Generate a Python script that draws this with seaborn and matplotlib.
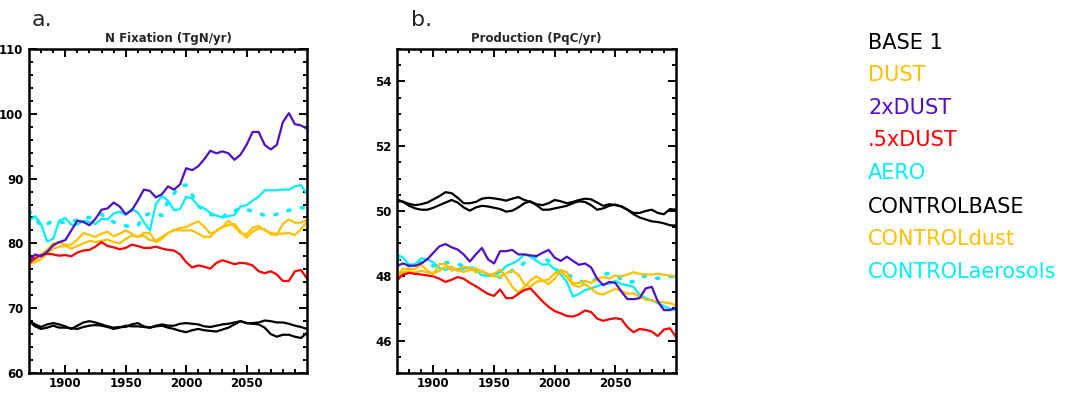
import numpy as np
import pandas as pd
import matplotlib
matplotlib.use("Agg")
import matplotlib.pyplot as plt
import seaborn as sns

years = list(range(1870, 2101, 5))

# ---- Panel a: N Fixation (TgN/yr) ----
nfix_base1 = [68.1, 67.5, 67.1, 67.5, 67.7, 67.5, 67.2, 66.8, 67.3, 67.8, 68.0, 67.8, 67.5, 67.2, 67.0, 67.1,
              67.1, 67.5, 67.7, 67.2, 67.0, 67.3, 67.5, 67.3, 67.3, 67.6, 67.7, 67.6, 67.5, 67.2, 67.1, 67.3,
              67.5, 67.6, 67.8, 68.0, 67.7, 67.7, 67.8, 68.1, 68.0, 67.8, 67.8, 67.6, 67.3, 67.1, 66.8]
nfix_dust = [77.3, 77.5, 78.3, 79.0, 80.0, 80.2, 79.8, 79.8, 80.6, 81.6, 81.3, 81.0, 81.5, 81.8, 81.1, 81.5,
             82.0, 81.5, 81.0, 81.6, 81.6, 80.2, 80.7, 81.6, 82.0, 82.4, 82.5, 83.0, 83.4, 82.6, 81.5, 81.9,
             82.5, 82.8, 83.0, 81.8, 80.9, 81.8, 82.3, 82.2, 81.4, 81.3, 83.0, 83.7, 83.2, 83.2, 83.6]
nfix_2xdust = [77.2, 78.3, 78.0, 78.7, 79.7, 80.2, 80.5, 82.0, 83.5, 83.3, 82.8, 83.8, 85.2, 85.4, 86.3, 85.7,
               84.5, 85.1, 86.6, 88.3, 88.1, 87.1, 87.6, 88.8, 88.3, 89.1, 91.6, 91.3, 91.9, 93.0, 94.3, 93.9,
               94.2, 93.9, 92.9, 93.7, 95.2, 97.2, 97.2, 95.2, 94.5, 95.2, 98.7, 100.1, 98.4, 98.2, 97.7]
nfix_halfdust = [76.95, 77.7, 78.2, 78.4, 78.3, 78.1, 78.2, 78.0, 78.6, 78.9, 79.0, 79.5, 80.2, 79.6, 79.4, 79.1,
                 79.3, 79.8, 79.6, 79.3, 79.3, 79.5, 79.2, 79.0, 78.9, 78.3, 77.1, 76.3, 76.6, 76.4, 76.1, 77.0,
                 77.4, 77.1, 76.8, 77.0, 76.9, 76.6, 75.7, 75.4, 75.7, 75.2, 74.2, 74.2, 75.7, 75.9, 74.6]
nfix_aero = [83.5, 84.2, 83.0, 80.3, 80.7, 83.5, 83.9, 82.9, 82.9, 83.5, 83.3, 83.0, 83.8, 83.7, 84.6, 84.9,
             84.4, 85.3, 84.8, 83.3, 82.0, 86.1, 87.3, 86.6, 85.1, 85.3, 87.2, 86.9, 85.8, 85.4, 84.7, 84.3,
             84.0, 84.2, 84.4, 85.7, 85.9, 86.6, 87.2, 88.2, 88.2, 88.2, 88.3, 88.3, 88.8, 89.0, 87.6]
nfix_controlbase = [68.0, 67.2, 66.8, 67.0, 67.3, 67.0, 67.0, 66.9, 66.8, 67.1, 67.3, 67.4, 67.3, 67.1, 66.8, 67.0,
                    67.3, 67.2, 67.2, 67.1, 67.0, 67.2, 67.3, 67.0, 66.8, 66.5, 66.3, 66.6, 66.8, 66.6, 66.5, 66.4,
                    66.7, 67.0, 67.5, 68.0, 67.7, 67.6, 67.5, 67.0, 66.0, 65.6, 65.9, 65.9, 65.6, 65.4, 66.2]
nfix_controldust = [76.9, 77.1, 77.6, 78.4, 79.2, 79.5, 79.6, 79.2, 79.6, 80.0, 80.4, 80.2, 80.4, 80.6, 80.2, 80.0,
                    80.7, 81.2, 81.0, 81.2, 80.5, 80.4, 81.0, 81.6, 82.1, 82.0, 82.0, 82.0, 81.5, 81.0, 81.0, 82.0,
                    82.5, 83.5, 82.6, 81.6, 81.4, 82.4, 82.7, 82.0, 81.6, 81.5, 81.5, 81.6, 81.3, 82.2, 83.3]
nfix_controlaero = [85.0, 84.0, 82.6, 83.0, 83.5, 83.3, 83.2, 83.4, 83.6, 84.0, 84.0, 84.3, 84.5, 83.8, 83.3, 83.0,
                    82.7, 82.6, 82.7, 84.3, 84.6, 84.6, 84.3, 86.5, 87.7, 88.9, 89.0, 87.5, 85.8, 85.0, 84.5, 84.2,
                    84.0, 84.8, 85.0, 85.4, 85.2, 85.0, 84.7, 84.3, 84.3, 84.5, 84.7, 85.1, 85.3, 85.5, 85.5]

# ---- Panel b: Production (PgC/yr) ----
prod_base1 = [50.31, 50.29, 50.22, 50.18, 50.21, 50.26, 50.36, 50.46, 50.58, 50.55, 50.41, 50.24, 50.24, 50.28,
              50.38, 50.41, 50.39, 50.36, 50.32, 50.38, 50.43, 50.34, 50.28, 50.21, 50.18, 50.24, 50.34, 50.30,
              50.24, 50.28, 50.34, 50.38, 50.36, 50.26, 50.16, 50.21, 50.18, 50.14, 50.04, 49.94, 49.94, 50.00,
              50.04, 49.94, 49.90, 50.06, 50.04]
prod_dust = [48.01, 48.22, 48.21, 48.21, 48.34, 48.16, 48.06, 48.36, 48.36, 48.16, 48.21, 48.28, 48.24, 48.11,
             48.16, 48.04, 48.06, 48.19, 47.96, 47.66, 47.48, 47.66, 47.86, 47.98, 47.86, 47.74, 47.91, 48.18,
             48.11, 47.76, 47.78, 47.84, 47.78, 47.91, 47.96, 47.92, 48.01, 47.98, 48.04, 48.11, 48.06, 48.04,
             48.04, 48.06, 48.03, 48.01, 47.98]
prod_2xdust = [48.31, 48.38, 48.31, 48.31, 48.38, 48.51, 48.71, 48.91, 48.98, 48.88, 48.81, 48.66, 48.44, 48.66,
               48.86, 48.51, 48.38, 48.76, 48.76, 48.80, 48.66, 48.66, 48.63, 48.61, 48.71, 48.80, 48.56, 48.46,
               48.59, 48.46, 48.34, 48.38, 48.26, 47.91, 47.71, 47.81, 47.78, 47.51, 47.28, 47.28, 47.31, 47.61,
               47.66, 47.21, 46.94, 46.94, 47.01]
prod_halfdust = [47.86, 48.04, 48.09, 48.06, 48.04, 48.01, 47.98, 47.91, 47.81, 47.88, 47.96, 47.91, 47.78, 47.68,
                 47.56, 47.44, 47.38, 47.58, 47.31, 47.31, 47.44, 47.56, 47.61, 47.41, 47.21, 47.04, 46.91, 46.84,
                 46.76, 46.74, 46.81, 46.93, 46.88, 46.68, 46.61, 46.66, 46.69, 46.66, 46.41, 46.26, 46.36, 46.33,
                 46.28, 46.14, 46.34, 46.38, 46.11]
prod_aero = [48.66, 48.56, 48.34, 48.36, 48.54, 48.51, 48.41, 48.24, 48.18, 48.26, 48.16, 48.22, 48.26, 48.18,
             48.01, 48.00, 48.01, 48.11, 48.30, 48.38, 48.48, 48.66, 48.59, 48.46, 48.34, 48.36, 48.21, 48.04,
             47.81, 47.36, 47.44, 47.56, 47.61, 47.68, 47.74, 47.76, 47.84, 47.74, 47.71, 47.66, 47.41, 47.31,
             47.24, 47.16, 47.06, 46.98, 46.94]
prod_controlbase = [50.36, 50.28, 50.16, 50.08, 50.04, 50.04, 50.10, 50.18, 50.26, 50.34, 50.26, 50.11, 50.01,
                    50.11, 50.16, 50.14, 50.10, 50.06, 49.98, 50.01, 50.11, 50.24, 50.30, 50.18, 50.04, 50.04,
                    50.08, 50.12, 50.16, 50.24, 50.30, 50.28, 50.18, 50.04, 50.08, 50.16, 50.20, 50.14, 50.04,
                    49.90, 49.80, 49.74, 49.68, 49.66, 49.62, 49.56, 49.55]
prod_controldust = [47.96, 48.12, 48.14, 48.10, 48.16, 48.10, 48.08, 48.16, 48.28, 48.28, 48.17, 48.12, 48.18,
                    48.23, 48.12, 48.05, 47.98, 47.98, 48.08, 48.16, 48.04, 47.74, 47.66, 47.82, 47.84, 47.89,
                    48.08, 48.14, 47.96, 47.72, 47.66, 47.74, 47.61, 47.46, 47.42, 47.51, 47.60, 47.54, 47.44,
                    47.46, 47.36, 47.26, 47.24, 47.21, 47.18, 47.16, 47.08]
prod_controlaero = [48.56, 48.38, 48.30, 48.44, 48.40, 48.41, 48.30, 48.36, 48.41, 48.40, 48.36, 48.30, 48.26,
                    48.20, 48.12, 48.02, 47.98, 47.96, 48.06, 48.16, 48.26, 48.40, 48.52, 48.60, 48.55, 48.46,
                    48.22, 48.10, 48.04, 47.96, 47.86, 47.78, 47.80, 47.92, 48.04, 48.08, 48.02, 47.90, 47.80,
                    47.82, 47.94, 48.00, 47.96, 47.92, 47.96, 47.98, 47.96]

labels = ["BASE1", "DUST", "2xDUST", ".5xDUST", "AERO", "CONTROLBASE", "CONTROLdust", "CONTROLaerosols"]
legend_labels = ["BASE 1", "DUST", "2xDUST", ".5xDUST", "AERO", "CONTROLBASE", "CONTROLdust", "CONTROLaerosols"]
x_major = [1900, 1950, 2000, 2050]

BLACK, GOLD, PURPLE, RED, CYAN = "#000000", "#FFC000", "#5010C8", "#FF0000", "#00F0FA"
colors = [BLACK, GOLD, PURPLE, RED, CYAN, BLACK, GOLD, CYAN]
styles = ["-", "-", "-", "-", "-", "-", "-", (0, (0.6, 3.2))]

sns.set_style("ticks")
plt.rcParams["font.family"] = ["DejaVu Sans"]

fig = plt.figure(figsize=(10.66, 3.95), dpi=100)
W, H = 1066, 395
top_px, bot_px = 49, 373
axA = fig.add_axes([29 / W, 1 - bot_px / H, 278 / W, (bot_px - top_px) / H])
axB = fig.add_axes([397 / W, 1 - bot_px / H, 279 / W, (bot_px - top_px) / H])

panels = [
    (axA, [nfix_base1, nfix_dust, nfix_2xdust, nfix_halfdust, nfix_aero, nfix_controlbase, nfix_controldust,
           nfix_controlaero], "N Fixation (TgN/yr)", (60, 110), 10, 2),
    (axB, [prod_base1, prod_dust, prod_2xdust, prod_halfdust, prod_aero, prod_controlbase, prod_controldust,
           prod_controlaero], "Production (PqC/yr)", (45, 55), 2, 0.5),
]

for ax, series, title, ylim, ymaj, ymin in panels:
    order = [7, 4, 6, 1, 3, 2, 0, 5]
    for i in order:
        df = pd.DataFrame({"year": years, "value": series[i]})
        lw = 2.6 if i == 7 else 1.6
        sns.lineplot(data=df, x="year", y="value", ax=ax, color=colors[i], linestyle=styles[i],
                     linewidth=lw, legend=False, dash_capstyle="round")
    ax.set_xlim(1870, 2100)
    ax.set_ylim(*ylim)
    ax.set_xticks(x_major)
    ax.set_xticks(np.arange(1880, 2100, 10), minor=True)
    yt = np.arange(np.ceil(ylim[0] / ymaj) * ymaj, ylim[1] + 1e-9, ymaj)
    ax.set_yticks(yt)
    ax.set_yticklabels([f"{v:g}" for v in yt])
    ax.set_yticks(np.arange(ylim[0], ylim[1] + 1e-9, ymin), minor=True)
    ax.set_xlabel("")
    ax.set_ylabel("")
    ax.tick_params(which="both", direction="in", top=True, right=True, width=1.4, colors="black")
    ax.tick_params(which="major", length=6)
    ax.tick_params(which="minor", length=3)
    ax.tick_params(axis="x", which="major", pad=3, labelsize=8.5)
    ax.tick_params(axis="y", which="major", pad=4, labelsize=8.5)
    for lab in ax.get_xticklabels() + ax.get_yticklabels():
        lab.set_fontweight("bold")
    for sp in ax.spines.values():
        sp.set_visible(True)
        sp.set_linewidth(1.8)
        sp.set_color("black")
    ax.set_title(title, fontsize=8.5, fontweight="bold", pad=5)

fig.text(32 / W, 1 - 26 / H, "a.", fontsize=16, va="baseline", ha="left")
fig.text(411 / W, 1 - 26 / H, "b.", fontsize=16, va="baseline", ha="left")

leg_y = [43, 75, 108, 140, 173, 207, 239, 272]
for lab, col, yc in zip(legend_labels, colors, leg_y):
    fig.text(868 / W, 1 - yc / H, lab, color=col, fontsize=15, va="center", ha="left")

fig.savefig("out.png", dpi=100)
